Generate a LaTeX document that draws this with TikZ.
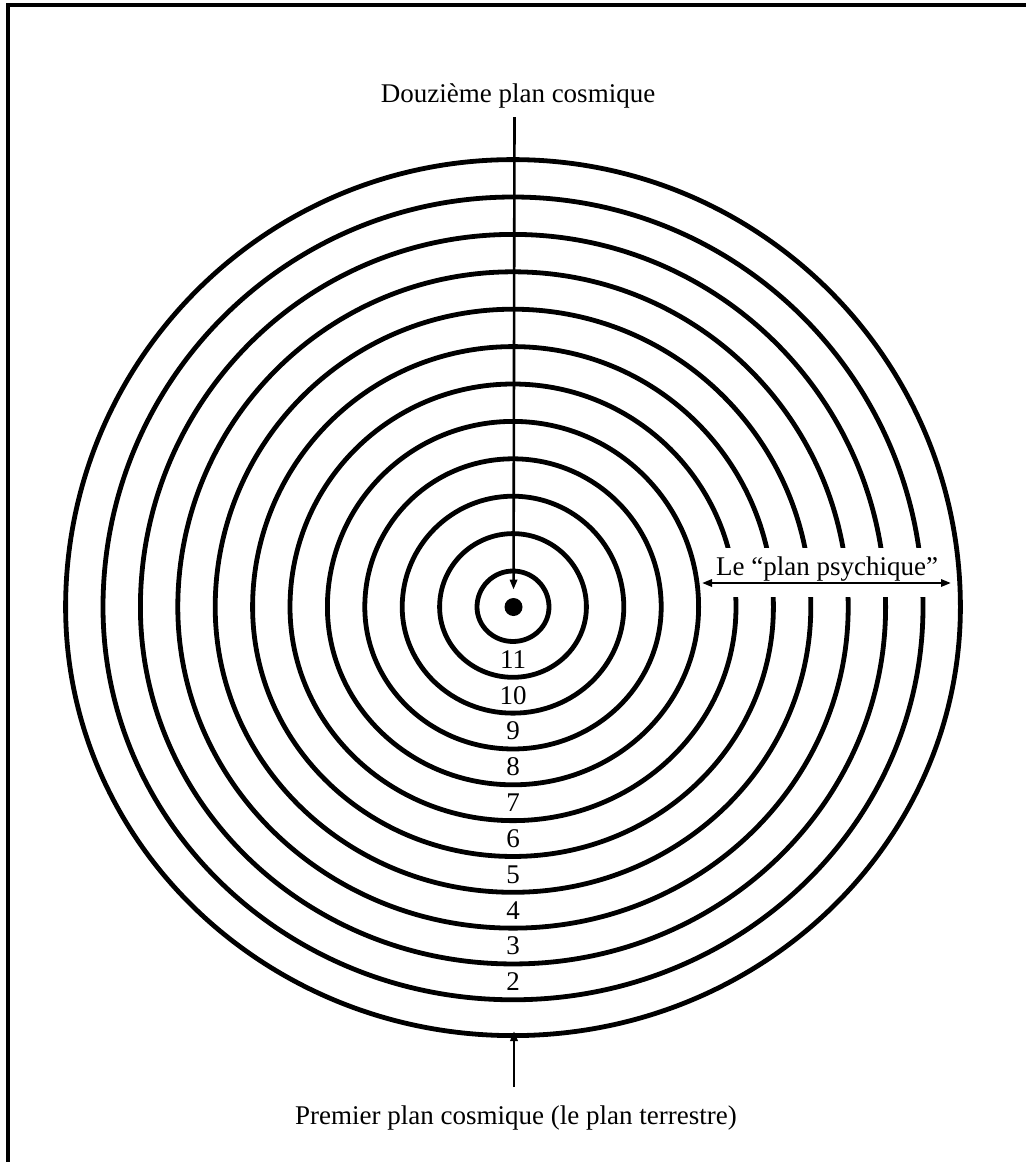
\documentclass[tikz,border=0pt]{standalone}
\usepackage{fontspec}
\setmainfont{Liberation Serif}
\usetikzlibrary{arrows.meta}
\begin{document}
\begin{tikzpicture}[x=0.5pt,y=-0.5pt,
  ring/.style={line width=2.4pt},
  arr/.style={line width=1.3pt,-{Triangle[length=5pt,width=3.6pt]}},
  darr/.style={line width=1.2pt,{Triangle[length=5pt,width=3.6pt]}-{Triangle[length=5pt,width=3.6pt]}},
  lab/.style={font=\fontsize{13.5}{16}\selectfont, inner sep=0pt},
  dotnode/.style={circle,fill=black,inner sep=0pt,minimum size=9pt}
]
\useasboundingbox (0,0) rectangle (1026,1162);
% frame (top and left edges)
\draw[line width=1.7pt,line join=miter] (8,1162) -- (8,5) -- (1026,5);
% rings
\foreach \i in {0,...,11} {
  \pgfmathsetmacro\r{36+37.4*\i}
  \pgfmathsetmacro\b{0.958*\r}
  \draw[ring] (513+\r,607) arc[start angle=0,end angle=180,radius=\r*0.5pt]
     arc[start angle=180,end angle=360,x radius=\r*0.5pt,y radius=\b*0.5pt];
}
% numbers
\foreach \n [count=\k] in {11,10,...,2} {
  \pgfmathsetmacro\yy{607+0.958*(17.3+37.4*\k)}
  \node[lab] (n\n) at (513,\yy) {\n};
}
% centre dot
\node[dotnode] (dot) at (513.5,607) {};
% top label and arrow
\node[lab,anchor=base] (ltop) at (518,102) {Douzième plan cosmique};
\coordinate (t0) at (514.5,117);
\draw[arr,shorten >=4pt] (t0) -- (dot);
% psychic plane label and arrow
\fill[white] (716,548) rectangle (938,597);
\node[lab,anchor=base] (psy) at (827,575) {Le “plan psychique”};
\coordinate (pa) at (702,583);
\coordinate (pb) at (951,583);
\draw[darr] (pa) -- (pb);
% bottom label and arrow
\node[lab,anchor=base] (lbot) at (516,1124) {Premier plan cosmique (le plan terrestre)};
\coordinate (b0) at (514,1087);
\coordinate (b1) at (514,1031);
\draw[arr] (b0) -- (b1);
\end{tikzpicture}
\end{document}
